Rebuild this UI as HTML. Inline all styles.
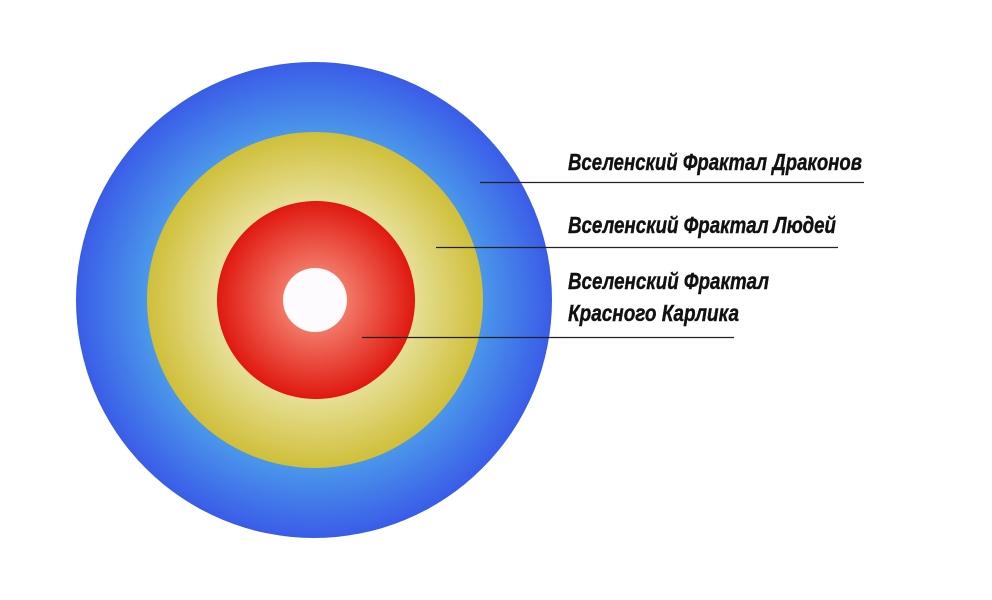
<!DOCTYPE html>
<html><head><meta charset="utf-8"><style>html,body{margin:0;padding:0;background:#fff}svg{display:block}</style></head>
<body>
<svg width="992" height="600" viewBox="0 0 992 600" xmlns="http://www.w3.org/2000/svg">
<defs>
<radialGradient id="b" cx="314" cy="300" r="238" gradientUnits="userSpaceOnUse">
<stop offset="0.7" stop-color="#4b98ea"/><stop offset="1" stop-color="#3a5ce8"/></radialGradient>
<radialGradient id="y" cx="315" cy="300" r="168" gradientUnits="userSpaceOnUse">
<stop offset="0.5" stop-color="#ebe6aa"/><stop offset="1" stop-color="#cfbf3a"/></radialGradient>
<radialGradient id="r" cx="316" cy="300" r="99" gradientUnits="userSpaceOnUse">
<stop offset="0.3" stop-color="#f27a68"/><stop offset="1" stop-color="#e01810"/></radialGradient>
</defs>
<circle cx="314" cy="300" r="238" fill="url(#b)"/>
<circle cx="315" cy="300" r="168" fill="url(#y)"/>
<circle cx="316" cy="300" r="99" fill="url(#r)"/>
<circle cx="315" cy="300" r="32" fill="#fdfbfd"/>
<g stroke="#222" stroke-width="1.2">
<line x1="480" y1="182.5" x2="864" y2="182.5"/>
<line x1="436" y1="247.5" x2="838" y2="247.5"/>
<line x1="362" y1="337.5" x2="734" y2="337.5"/>
</g>
<g font-family="Liberation Sans, sans-serif" font-weight="bold" font-style="italic" font-size="23" fill="#111" stroke="#111" stroke-width="0.4">
<text x="568" y="170" textLength="294" lengthAdjust="spacingAndGlyphs">Вселенский Фрактал Драконов</text>
<text x="568" y="233" textLength="268" lengthAdjust="spacingAndGlyphs">Вселенский Фрактал Людей</text>
<text x="568" y="289" textLength="201" lengthAdjust="spacingAndGlyphs">Вселенский Фрактал</text>
<text x="568" y="321" textLength="171" lengthAdjust="spacingAndGlyphs">Красного Карлика</text>
</g>
</svg>
</body></html>
